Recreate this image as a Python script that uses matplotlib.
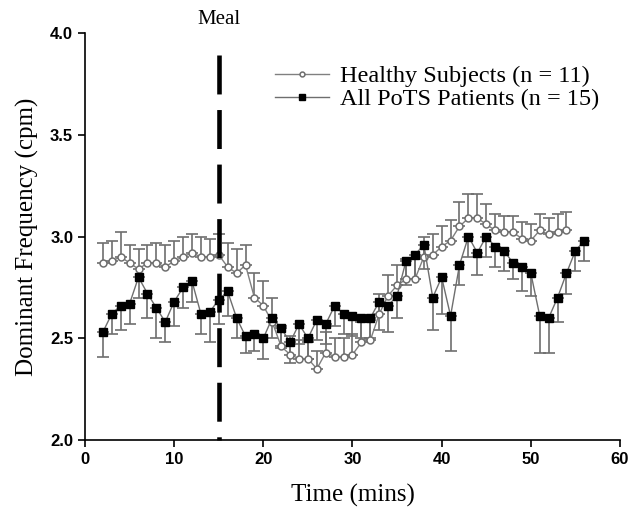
import matplotlib
matplotlib.use('Agg')
import matplotlib.pyplot as plt

# 健康受试者 (open circles), x = 2..54
healthy_t = list(range(2, 55))
healthy_y = [2.87, 2.88, 2.90, 2.87, 2.84, 2.87, 2.87, 2.85, 2.88, 2.90,
             2.92, 2.90, 2.90, 2.91, 2.85, 2.82, 2.86, 2.70, 2.66, 2.58,
             2.46, 2.42, 2.40, 2.40, 2.35, 2.43, 2.41, 2.41, 2.42, 2.48,
             2.49, 2.62, 2.71, 2.76, 2.79, 2.79, 2.90, 2.91, 2.95, 2.98,
             3.05, 3.09, 3.09, 3.06, 3.03, 3.02, 3.02, 2.99, 2.98, 3.03,
             3.01, 3.02, 3.03]
healthy_err = [0.10, 0.10, 0.12, 0.09, 0.10, 0.09, 0.10, 0.11, 0.10, 0.10,
               0.09, 0.10, 0.09, 0.10, 0.12, 0.12, 0.10, 0.12, 0.12, 0.12,
               0.10, 0.09, 0.09, 0.08, 0.09, 0.10, 0.09, 0.09, 0.10, 0.10,
               0.10, 0.10, 0.10, 0.10, 0.10, 0.10, 0.10, 0.10, 0.10, 0.10,
               0.12, 0.12, 0.12, 0.10, 0.08, 0.08, 0.08, 0.08, 0.08, 0.08,
               0.08, 0.09, 0.09]

# PoTS 患者 (filled squares), x = 2..56
pots_t = list(range(2, 57))
pots_y = [2.53, 2.62, 2.66, 2.67, 2.80, 2.72, 2.65, 2.58, 2.68, 2.75,
          2.78, 2.62, 2.63, 2.69, 2.73, 2.60, 2.51, 2.52, 2.50, 2.60,
          2.55, 2.48, 2.57, 2.50, 2.59, 2.57, 2.66, 2.62, 2.61, 2.60,
          2.60, 2.68, 2.66, 2.71, 2.88, 2.91, 2.96, 2.70, 2.80, 2.61,
          2.86, 3.00, 2.92, 3.00, 2.95, 2.93, 2.87, 2.85, 2.82, 2.61,
          2.60, 2.70, 2.82, 2.93, 2.98]
pots_err = [0.12, 0.10, 0.12, 0.10, 0.10, 0.12, 0.15, 0.10, 0.12, 0.10,
            0.10, 0.10, 0.15, 0.12, 0.12, 0.10, 0.08, 0.08, 0.10, 0.10,
            0.10, 0.10, 0.10, 0.10, 0.10, 0.10, 0.10, 0.10, 0.10, 0.10,
            0.10, 0.14, 0.13, 0.11, 0.12, 0.12, 0.12, 0.16, 0.18, 0.17,
            0.10, 0.10, 0.11, 0.10, 0.10, 0.10, 0.08, 0.12, 0.11, 0.18,
            0.17, 0.12, 0.10, 0.10, 0.10]

meal_time = 15

serif = 'Liberation Serif'
sans = 'Liberation Sans'

fig = plt.figure(figsize=(6.32, 5.07), dpi=100)
ax = fig.add_axes([0.1345, 0.132, 0.8465, 0.803])

gray = '#6e6e6e'

# error bars: healthy upward, patients downward
ax.errorbar(healthy_t, healthy_y, yerr=[[0] * len(healthy_err), healthy_err],
            fmt='none', ecolor=gray, elinewidth=1.2, capsize=4, capthick=1.2, zorder=2)
ax.errorbar(pots_t, pots_y, yerr=[pots_err, [0] * len(pots_err)],
            fmt='none', ecolor=gray, elinewidth=1.2, capsize=4, capthick=1.2, zorder=2)

ax.plot(healthy_t, healthy_y, color='#808080', lw=1, marker='o', markersize=5,
        markerfacecolor='white', markeredgecolor=gray, markeredgewidth=1.1,
        label='Healthy Subjects (n = 11)', zorder=3)
ax.plot(pots_t, pots_y, color=gray, lw=1, marker='s', markersize=5.5,
        markerfacecolor='black', markeredgecolor='black',
        label='All PoTS Patients (n = 15)', zorder=4)

# meal line
ax.plot([meal_time, meal_time], [3.89, 2.0], color='black', lw=3.3,
        linestyle=(0, (8.5, 3.4)), zorder=5, clip_on=False)
ax.text(meal_time, 4.02, 'Meal', ha='center', va='bottom', fontsize=15,
        family=serif, clip_on=False)

ax.set_xlim(0, 60)
ax.set_ylim(2.0, 4.0)
ax.set_xticks(range(0, 61, 10))
ax.set_yticks([2.0, 2.5, 3.0, 3.5, 4.0])
ax.set_yticklabels(['2.0', '2.5', '3.0', '3.5', '4.0'])
ax.spines['top'].set_visible(False)
ax.spines['right'].set_visible(False)
ax.spines['left'].set_linewidth(1.2)
ax.spines['bottom'].set_linewidth(1.2)
ax.tick_params(direction='out', length=5, width=1.2, labelsize=12)
for lab in ax.get_xticklabels() + ax.get_yticklabels():
    lab.set_family(sans)
    lab.set_fontweight('bold')

ax.set_xlabel('Time (mins)', fontsize=18, family=serif, labelpad=12)
ax.set_ylabel('Dominant Frequency (cpm)', fontsize=18, family=serif, labelpad=8)

leg = ax.legend(loc='upper left', bbox_to_anchor=(0.315, 0.975), frameon=False,
                prop={'family': serif, 'size': 17.5}, handlelength=2.2,
                handletextpad=0.45, labelspacing=0.05, markerscale=0.7)

fig.savefig('out.png', dpi=100)
